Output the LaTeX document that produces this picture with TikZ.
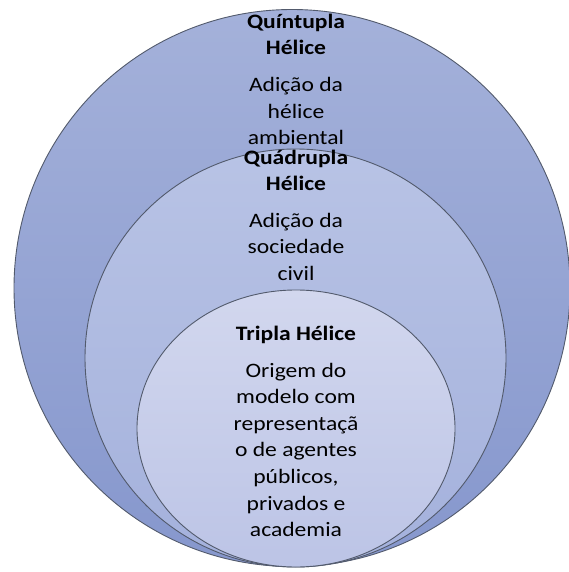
\documentclass[tikz,border=0pt]{standalone}
\usepackage{fontspec}
\setmainfont{Carlito}[FakeStretch=1.15]
\usetikzlibrary{shapes.geometric}
\definecolor{outT}{RGB}{164,177,218}
\definecolor{outB}{RGB}{134,151,205}
\definecolor{midT}{RGB}{184,195,229}
\definecolor{midB}{RGB}{164,177,220}
\definecolor{inT}{RGB}{210,215,238}
\definecolor{inB}{RGB}{188,196,230}
\definecolor{edgec}{RGB}{82,90,108}
\begin{document}
\begin{tikzpicture}[x=1pt,y=1pt,
  ring/.style={ellipse, draw=edgec, line width=0.9pt, inner sep=0pt},
  ttl/.style={font=\fontsize{20.5}{26.3}\selectfont\bfseries, align=center, anchor=base, inner sep=0pt},
  body/.style={font=\fontsize{20.5}{26.6}\selectfont, align=center, anchor=base, inner sep=0pt}]
\useasboundingbox (0,0) rectangle (569,-572);
\clip (0,0) rectangle (569,-572);
\node[ring, minimum width=556pt, minimum height=557pt, top color=outT, bottom color=outB] (outer) at (292,-288) {};
\node[ring, minimum width=421pt, minimum height=418pt, top color=midT, bottom color=midB] (middle) at (295.5,-358) {};
\node[ring, minimum width=318pt, minimum height=277pt, top color=inT, bottom color=inB] (inner) at (296,-428.5) {};
\node[ttl] (t5) at (296,-54.8) {Quíntupla\\Hélice};
\node[body] (b5) at (296,-144.6) {Adição da\\hélice\\ambiental};
\node[ttl] (t4) at (296,-190.6) {Quádrupla\\Hélice};
\node[body] (b4) at (296,-280.5) {Adição da\\sociedade\\civil};
\node[ttl] (t3) at (296,-340.5) {Tripla Hélice};
\node[body] (b3) at (296,-536.6) {Origem do\\modelo com\\representaçã\\o de agentes\\públicos,\\privados e\\academia};
\end{tikzpicture}
\end{document}
